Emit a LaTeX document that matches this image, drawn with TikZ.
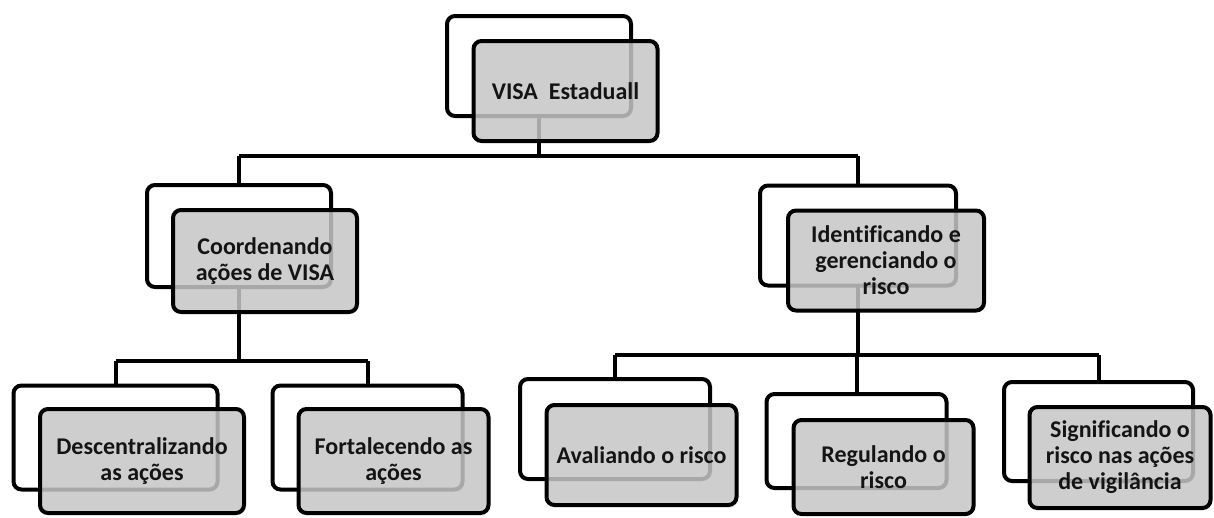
\documentclass[tikz,border=0pt]{standalone}
\usepackage{fontspec}
\setmainfont[Ligatures={NoCommon}]{Carlito}
\definecolor{boxgray}{RGB}{198,198,198}
\definecolor{textdark}{RGB}{20,20,20}
\begin{document}
\begin{tikzpicture}[x=1pt,y=-1pt,
  boxline/.style={line width=4pt, rounded corners=8pt, inner sep=0pt, outer sep=0pt},
  backbox/.style={boxline, draw=black},
  frontbox/.style={boxline, draw=black, fill=boxgray, fill opacity=0.85,
    text opacity=1, text=textdark, align=center,
    font=\bfseries\fontsize{24}{26}\selectfont},
  link/.style={line width=4pt, draw=black},
  sz/.style 2 args={minimum width=#1pt, minimum height=#2pt}
]
\useasboundingbox (0,0) rectangle (1214,517);

% back frames
\node[backbox, sz={184}{100}] (topB) at (539,66) {};
\node[backbox, sz={184}{102}] (coordB) at (239,236) {};
\node[backbox, sz={196}{100}] (riscoB) at (858,235.5) {};
\node[backbox, sz={204}{104}] (descB) at (115.5,437.5) {};
\node[backbox, sz={190}{104}] (fortB) at (367.5,437.5) {};
\node[backbox, sz={190}{100}] (avalB) at (615,429) {};
\node[backbox, sz={180}{94}] (reguB) at (856.5,441) {};
\node[backbox, sz={189}{99}] (signB) at (1098.5,431.5) {};

% bus levels
\coordinate (bus1) at (0,156);
\coordinate (bus2) at (0,361);
\coordinate (bus3) at (0,355);

% connectors
\draw[link] (topB.south) -- (topB.south |- bus1);
\draw[link] (coordB.north |- bus1) -- (riscoB.north |- bus1);
\draw[link] (coordB.north |- bus1) -- (coordB.north);
\draw[link] (riscoB.north |- bus1) -- (riscoB.north);

\draw[link] (coordB.south) -- (coordB.south |- bus2);
\draw[link] (descB.north |- bus2) -- (fortB.north |- bus2);
\draw[link] (descB.north |- bus2) -- (descB.north);
\draw[link] (fortB.north |- bus2) -- (fortB.north);

\draw[link] (riscoB.south) -- (riscoB.south |- bus3);
\draw[link] (avalB.north |- bus3) -- (signB.north |- bus3);
\draw[link] (avalB.north |- bus3) -- (avalB.north);
\draw[link] (reguB.north |- bus3) -- (reguB.north);
\draw[link] (signB.north |- bus3) -- (signB.north);

% front boxes with labels
\node[frontbox, sz={184}{100}] (topF) at (565.5,91) {VISA\ \ Estaduall};
\node[frontbox, sz={184}{102}] (coordF) at (265,261) {Coordenando\\ações de VISA};
\node[frontbox, sz={196}{100}] (riscoF) at (886,260.5) {Identificando e\\gerenciando o\\risco};
\node[frontbox, sz={204}{104}] (descF) at (142,461) {Descentralizando\\as ações};
\node[frontbox, sz={190}{104}] (fortF) at (393.5,461) {Fortalecendo as\\ações};
\node[frontbox, sz={190}{100}] (avalF) at (641.5,455) {Avaliando o risco};
\node[frontbox, sz={180}{94}] (reguF) at (883.5,467) {Regulando o\\risco};
\node[frontbox, sz={181}{101}] (signF) at (1120,457.5) {Significando o\\risco nas ações\\de vigilância};
\end{tikzpicture}
\end{document}
